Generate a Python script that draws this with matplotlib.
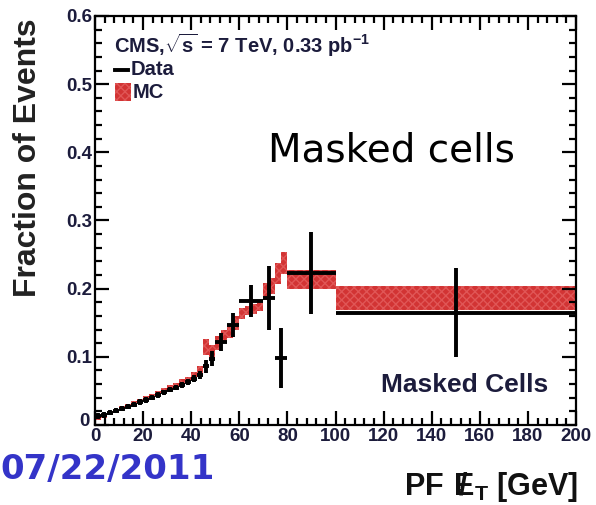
import numpy as np
import matplotlib.pyplot as plt
from matplotlib.ticker import MultipleLocator
from matplotlib.transforms import ScaledTranslation

plt.rcParams['font.family'] = ['Liberation Sans', 'DejaVu Sans']
plt.rcParams['mathtext.fontset'] = 'custom'
plt.rcParams['mathtext.rm'] = 'Liberation Sans:bold'
plt.rcParams['mathtext.bf'] = 'Liberation Sans:bold'
plt.rcParams['mathtext.it'] = 'Liberation Sans:bold'

# binning of the PF MET distribution (variable width)
edges = np.concatenate([np.arange(0, 50, 2.5), [50, 55, 60, 70, 75, 80, 100, 200]])

# data: fraction of events per bin and uncertainty
data_y = [0.013, 0.015, 0.018, 0.021, 0.024, 0.027, 0.030, 0.034, 0.037, 0.040,
          0.044, 0.048, 0.052, 0.055, 0.059, 0.063, 0.068, 0.073, 0.086, 0.097,
          0.122, 0.147, 0.182, 0.186, 0.098, 0.223, 0.165]
data_err = [0.004, 0.004, 0.004, 0.004, 0.004, 0.004, 0.004, 0.004, 0.004, 0.004,
            0.004, 0.004, 0.004, 0.004, 0.004, 0.004, 0.005, 0.006, 0.009, 0.011,
            0.013, 0.018, 0.023, 0.047, 0.044, 0.060, 0.065]

# simulation on a finer grid up to 80 GeV
mc_edges = np.concatenate([np.arange(0, 80, 2.5), [80, 100, 200]])
mc_y = [0.011, 0.014, 0.018, 0.021, 0.025, 0.028, 0.032, 0.035, 0.039, 0.043,
        0.047, 0.051, 0.055, 0.059, 0.063, 0.067, 0.073, 0.080, 0.114, 0.108,
        0.120, 0.130, 0.138, 0.150, 0.164, 0.168, 0.170, 0.174, 0.196, 0.204,
        0.222, 0.238, 0.213, 0.186]
mc_err = [0.003, 0.003, 0.003, 0.003, 0.003, 0.003, 0.003, 0.003, 0.003, 0.003,
          0.003, 0.003, 0.003, 0.003, 0.004, 0.004, 0.005, 0.006, 0.012, 0.010,
          0.010, 0.010, 0.010, 0.010, 0.008, 0.007, 0.007, 0.007, 0.012, 0.012,
          0.015, 0.016, 0.014, 0.018]

ink = '#1c1c3c'
red = '#d23434'
hatch_col = '#e05656'

fig = plt.figure(figsize=(5.96, 5.05), dpi=100)
ax = fig.add_axes([95 / 596, 80 / 505, 481 / 596, 409 / 505])

mc_y = np.array(mc_y)
mc_err = np.array(mc_err)
ax.stairs(mc_y + mc_err, mc_edges, baseline=mc_y - mc_err, fill=True,
          facecolor=red, edgecolor=hatch_col, hatch='xxxx', linewidth=0)

centers = 0.5 * (edges[:-1] + edges[1:])
halfw = 0.5 * np.diff(edges)
ax.errorbar(centers, data_y, xerr=halfw, yerr=data_err, fmt='none',
            ecolor='black', elinewidth=2.8, capsize=0)

ax.set_xlim(0, 200)
ax.set_ylim(0, 0.6)
ax.xaxis.set_minor_locator(MultipleLocator(4))
ax.yaxis.set_minor_locator(MultipleLocator(0.02))
ax.tick_params(which='both', direction='in', top=True, right=True,
               width=1.6, colors='black', labelcolor=ink)
ax.tick_params(which='major', length=10, labelsize=13.5, pad=2)
ax.tick_params(which='minor', length=5)
ax.set_xticks(np.arange(0, 201, 20))
ax.set_xticklabels([str(v) for v in range(0, 201, 20)], fontweight='bold')
ax.set_yticks(np.arange(0, 0.61, 0.1))
ax.set_yticklabels(['0', '0.1', '0.2', '0.3', '0.4', '0.5', '0.6'], fontweight='bold')
# nudge the y-axis zero up a few pixels so it clears the x-axis zero
zero = ax.get_yticklabels()[0]
zero.set_transform(zero.get_transform() + ScaledTranslation(-2 / 72, 4 / 72, fig.dpi_scale_trans))
for s in ax.spines.values():
    s.set_linewidth(1.6)

# legend block
ax.text(0.04, 0.929, r'CMS,$\sqrt{s}$ = 7 TeV, 0.33 pb$^{-1}$', transform=ax.transAxes,
        fontsize=14.5, fontweight='bold', color=ink, va='center', ha='left')
ax.plot([0.042, 0.068], [0.868, 0.868], transform=ax.transAxes, color='black', lw=2.8)
ax.text(0.075, 0.868, 'Data', transform=ax.transAxes, fontsize=14.5,
        fontweight='bold', color=ink, va='center', ha='left')
ax.add_patch(plt.Rectangle((0.042, 0.792), 0.032, 0.044, transform=ax.transAxes,
                           facecolor=red, edgecolor=hatch_col, hatch='xxxx', lw=0))
ax.text(0.078, 0.814, 'MC', transform=ax.transAxes, fontsize=14.5,
        fontweight='bold', color=ink, va='center', ha='left')

ax.text(0.36, 0.672, 'Masked cells', transform=ax.transAxes, fontsize=28,
        family='DejaVu Sans', color='black', va='center', ha='left')
ax.text(0.942, 0.098, 'Masked Cells', transform=ax.transAxes, fontsize=19,
        fontweight='bold', color=ink, va='center', ha='right')

fig.text(28 / 596, 1 - 18 / 505, 'Fraction of Events', rotation=90, fontsize=23,
         fontweight='bold', color='#222222', ha='center', va='top')
fig.text(578 / 596, 1 - 487 / 505, r'PF $\;/\!\!\!E_{T}$ [GeV]', fontsize=22,
         fontweight='bold', color='#111111', ha='right', va='center')
fig.text(0, 1 - 470 / 505, '07/22/2011', fontsize=24.5, fontweight='bold',
         family='DejaVu Sans', color='#3434c8', ha='left', va='center')

fig.savefig('out.png', dpi=100)
